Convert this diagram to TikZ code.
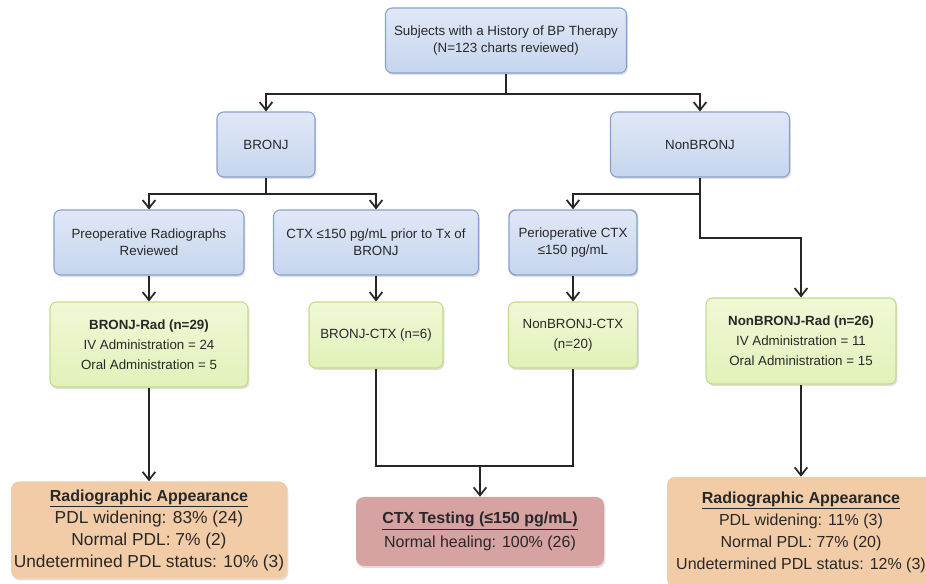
\documentclass[tikz,border=0pt]{standalone}
\usepackage{fontspec}
\setmainfont{Liberation Sans}
\usetikzlibrary{arrows.meta,shadows}
\definecolor{txt}{RGB}{40,40,40}
\definecolor{blueT}{RGB}{224,232,246}
\definecolor{blueB}{RGB}{198,213,238}
\definecolor{blueBd}{RGB}{135,160,205}
\definecolor{grnT}{RGB}{240,248,214}
\definecolor{grnB}{RGB}{226,241,186}
\definecolor{grnBd}{RGB}{196,218,140}
\definecolor{orng}{RGB}{242,204,166}
\definecolor{rose}{RGB}{214,162,162}
\newcommand{\ttlfont}{\fontsize{12}{16.5}\selectfont\bfseries}
\begin{document}
\begin{tikzpicture}[x=0.75pt,y=-0.75pt,
  sz/.style n args={2}{minimum width=#1*0.75pt, minimum height=#2*0.75pt},
  shd/.style={drop shadow={opacity=0.25, shadow xshift=1pt, shadow yshift=-1.5pt}},
  blu/.style={draw=blueBd, line width=0.8pt, rounded corners=5pt, top color=blueT, bottom color=blueB, shd, text=txt, align=center, inner sep=2pt, font=\fontsize{10}{13}\selectfont},
  grn/.style={draw=grnBd, line width=0.8pt, rounded corners=5pt, top color=grnT, bottom color=grnB, shd, text=txt, align=center, inner sep=2pt, font=\fontsize{10}{15}\selectfont},
  res/.style={rounded corners=6pt, shd, text=txt, align=center, inner sep=2pt, font=\fontsize{13}{16.5}\selectfont},
  ln/.style={draw=black!85, line width=1.5pt},
  arr/.style={ln, -{Straight Barb[length=6pt,width=9.5pt,line width=1.3pt]}}]
\useasboundingbox (0,0) rectangle (926,584);

\node[blu, sz={241}{65}] (top) at (506,40.5) {Subjects with a History of BP Therapy\\(N=123 charts reviewed)};
\node[blu, sz={98}{65}] (bronj) at (266,144.5) {BRONJ};
\node[blu, sz={179}{65}] (nonb) at (700,144.5) {NonBRONJ};

\node[blu, sz={190}{65}] (preop) at (149,242.5) {Preoperative Radiographs\\Reviewed};
\node[blu, sz={205}{65}] (ctxp) at (376,242.5) {CTX ≤150 pg/mL prior to Tx of\\BRONJ};
\node[blu, sz={128}{65}, line width=1.1pt] (peri) at (573,242.5) {Perioperative CTX\\≤150 pg/mL};

\node[grn, sz={198}{85}] (brad) at (149,344.5) {\textbf{BRONJ-Rad (n=29)}\\IV Administration = 24\\Oral Administration = 5};
\node[grn, sz={134}{66}] (bctx) at (376,335) {BRONJ-CTX (n=6)};
\node[grn, sz={129}{66}] (nctx) at (573,335) {NonBRONJ-CTX\\(n=20)};
\node[grn, sz={190}{86}] (nrad) at (801,341) {\textbf{NonBRONJ-Rad (n=26)}\\IV Administration = 11\\Oral Administration = 15};

\node[res, fill=orng, sz={276}{97}] (radl) at (149,530) {{\ttlfont\underline{Radiographic Appearance}}\\PDL widening: 83\% (24)\\Normal PDL: 7\% (2)\\Undetermined PDL status: 10\% (3)};
\node[res, fill=rose, sz={248}{69}, font=\fontsize{12}{18}\selectfont] (ctxt) at (480,531.5) {\underline{\textbf{CTX Testing (≤150 pg/mL)}}\\Normal healing: 100\% (26)};
\node[res, fill=orng, sz={268}{110}, font=\fontsize{12}{16.5}\selectfont] (radr) at (801,532) {{\ttlfont\underline{Radiographic Appearance}}\\PDL widening: 11\% (3)\\Normal PDL: 77\% (20)\\Undetermined PDL status: 12\% (3)};

\draw[arr] (top.south) -- ++(0,20) -| (bronj.north);
\draw[arr] (top.south) -- ++(0,20) -| (nonb.north);
\draw[arr] (bronj.south) -- ++(0,16) -| (preop.north);
\draw[arr] (bronj.south) -- ++(0,16) -| (ctxp.north);
\draw[arr] (nonb.south) -- ++(0,16) -| (peri.north);
\draw[arr] (nonb.south) -- ++(0,60) -| (nrad.north);
\draw[arr] (preop.south) -- (brad.north);
\draw[arr] (ctxp.south) -- (bctx.north);
\draw[arr] (peri.south) -- (nctx.north);
\draw[arr] (brad.south) -- (radl.north);
\draw[arr] (nrad.south) -- (radr.north);
\draw[ln] (bctx.south) -- ++(0,97) -| (nctx.south);
\coordinate (mj) at (480,465);
\draw[arr] (mj) -- (ctxt.north);
\end{tikzpicture}
\end{document}
